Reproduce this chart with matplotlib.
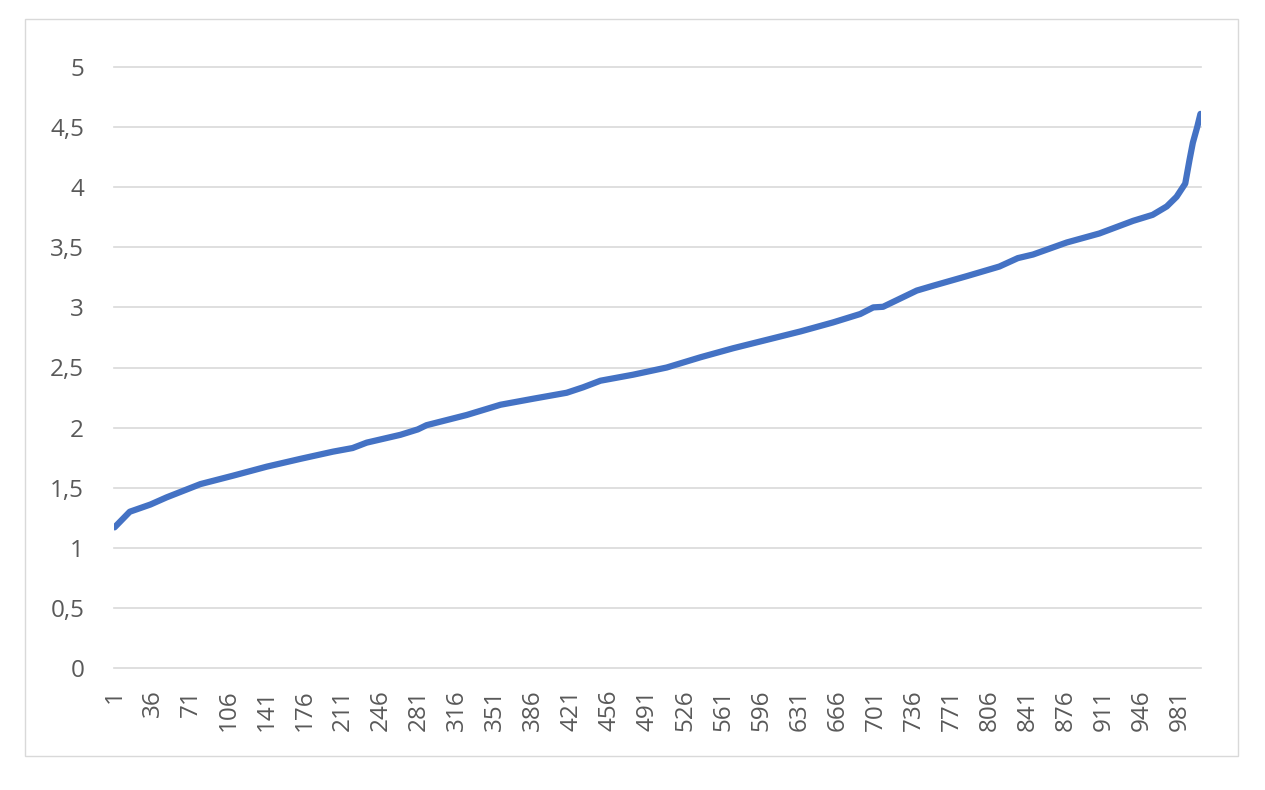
import matplotlib
matplotlib.use("Agg")
import matplotlib.pyplot as plt
from matplotlib.patches import Rectangle
from matplotlib.ticker import FuncFormatter

# Data (index, value)
idx = [1, 15, 34, 49, 80, 110, 141, 172, 202, 220, 233, 264, 280, 288, 325, 356,
       386, 417, 432, 448, 478, 509, 540, 570, 601, 632, 662, 687, 699, 708, 739,
       754, 785, 815, 832, 846, 877, 907, 938, 956, 969, 978, 986, 990, 993, 997, 1000]
vals = [1.17, 1.30, 1.36, 1.42, 1.53, 1.60, 1.675, 1.74, 1.80, 1.83, 1.875, 1.94,
        1.985, 2.02, 2.105, 2.19, 2.24, 2.29, 2.335, 2.39, 2.44, 2.50, 2.585, 2.66,
        2.73, 2.80, 2.875, 2.945, 3.00, 3.005, 3.14, 3.18, 3.26, 3.34, 3.41, 3.44,
        3.54, 3.615, 3.72, 3.77, 3.84, 3.92, 4.03, 4.23, 4.37, 4.50, 4.61]
n_categories = 1000
x_ticks = list(range(1, 982, 35))
y_ticks = [0, 0.5, 1, 1.5, 2, 2.5, 3, 3.5, 4, 4.5, 5]

W, H = 1265, 790
fig = plt.figure(figsize=(W / 100, H / 100), dpi=100)
fig.patch.set_facecolor("white")

# outer chart border
fig.patches.append(Rectangle((25 / W, 1 - 756 / H), (1238 - 25) / W, (756 - 19) / H,
                             transform=fig.transFigure, fill=False,
                             edgecolor="#D9D9D9", linewidth=1.0))

ax = fig.add_axes([114 / W, 1 - 668 / H, (1201 - 114) / W, (668 - 67) / H])
ax.plot(idx, vals, color="#4472C4", linewidth=4.5, solid_capstyle="round",
        solid_joinstyle="round", zorder=3)

ax.set_xlim(0.5, n_categories + 0.5)
ax.set_ylim(0, 5)
ax.set_yticks(y_ticks)
ax.yaxis.set_major_formatter(FuncFormatter(lambda v, p: f"{v:g}".replace(".", ",")))
ax.set_xticks(x_ticks)
ax.set_xticklabels([str(t) for t in x_ticks], rotation=90, va="top", ha="center")

for s in ax.spines.values():
    s.set_visible(False)
ax.grid(axis="y", color="#D9D9D9", linewidth=1.2, zorder=0)
for gl in ax.yaxis.get_gridlines():
    gl.set_clip_on(False)
ax.tick_params(axis="y", length=0, pad=21.5, labelsize=17.5, labelcolor="#595959")
ax.tick_params(axis="x", length=0, pad=15.5, labelsize=17.5, labelcolor="#595959")
for lab in ax.get_xticklabels() + ax.get_yticklabels():
    lab.set_fontfamily("Open Sans")

fig.savefig("out.png", dpi=100, facecolor="white")
